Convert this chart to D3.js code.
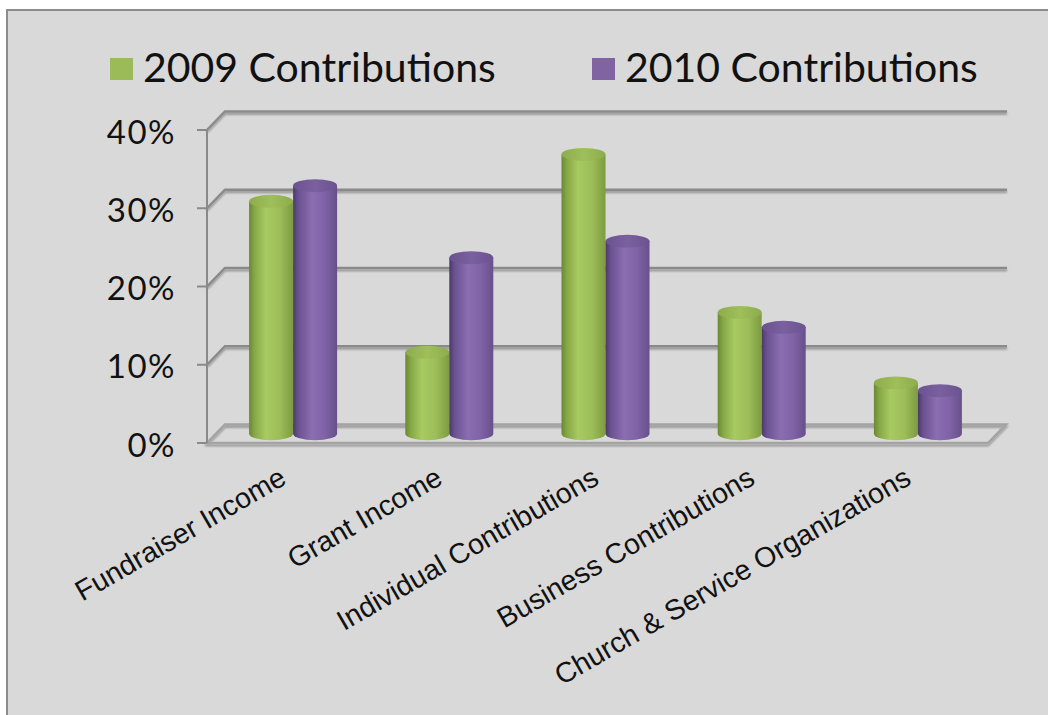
<!DOCTYPE html>
<html><head><meta charset="utf-8">
<script src="https://cdn.jsdelivr.net/npm/d3@7"></script>
<style>html,body{margin:0;padding:0;background:#fff;}svg{display:block;}</style>
</head><body>
<svg id="chart" width="1048" height="715"></svg>
<script>
const categories = ["Fundraiser Income", "Grant Income", "Individual Contributions", "Business Contributions", "Church & Service Organizations"];
const seriesNames = ["2009 Contributions", "2010 Contributions"];
const values2009 = [29.7, 10.4, 35.7, 15.5, 6.5];
const values2010 = [31.7, 22.5, 24.6, 13.6, 5.5];
const yTicks = [0, 10, 20, 30, 40];
const tickLabels = ["0%", "10%", "20%", "30%", "40%"];

const svg = d3.select("#chart");
const W = 1048, H = 715;

// frame
svg.append("rect").attr("x", 7).attr("y", 10).attr("width", W).attr("height", H).attr("fill", "#d9d9d9")
  .attr("stroke", "#8c8c8c").attr("stroke-width", 2);

const defs = svg.append("defs");
const shadow = defs.append("filter").attr("id", "lshadow").attr("x", "-5%").attr("y", "-50%").attr("width", "110%").attr("height", "300%");
shadow.append("feGaussianBlur").attr("in", "SourceAlpha").attr("stdDeviation", 1.2).attr("result", "b");
shadow.append("feOffset").attr("in", "b").attr("dy", 1.5).attr("result", "o");
shadow.append("feComponentTransfer").attr("in", "o").attr("result", "o2").append("feFuncA").attr("type", "linear").attr("slope", 0.35);
const merge = shadow.append("feMerge");
merge.append("feMergeNode").attr("in", "o2");
merge.append("feMergeNode").attr("in", "SourceGraphic");

const colors = [
  {stops: [["0%", "#6a8733"], ["12%", "#86a746"], ["38%", "#a8ca62"], ["70%", "#9cbd58"], ["100%", "#7d9b41"]], top: "#8dac4d", topHi: "#9fbf5a"},
  {stops: [["0%", "#4c3968"], ["12%", "#6a5290"], ["42%", "#8b6db1"], ["72%", "#8062a6"], ["100%", "#66508a"]], top: "#6b5290", topHi: "#7b60a0"}
];
colors.forEach((c, i) => {
  const g = defs.append("linearGradient").attr("id", "body" + i).attr("x1", 0).attr("x2", 1).attr("y1", 0).attr("y2", 0);
  c.stops.forEach(s => g.append("stop").attr("offset", s[0]).attr("stop-color", s[1]));
  const t = defs.append("linearGradient").attr("id", "top" + i).attr("x1", 0).attr("x2", 1).attr("y1", 0).attr("y2", 0);
  t.append("stop").attr("offset", "0%").attr("stop-color", c.top);
  t.append("stop").attr("offset", "50%").attr("stop-color", c.topHi);
  t.append("stop").attr("offset", "100%").attr("stop-color", c.top);
});

// plot geometry (front plane)
const x0 = 207, x1 = 988, yBase = 443, yTop = 130;
const depthX = 18, depthY = -18.5;
const y = d3.scaleLinear().domain([0, 40]).range([yBase, yTop]);
const x = d3.scaleBand().domain(categories).range([x0, x1]).paddingInner(0).paddingOuter(0);
const barW = 44;
const xs = d3.scaleBand().domain(seriesNames).range([-barW, barW]);

const grid = svg.append("g").attr("filter", "url(#lshadow)");
yTicks.forEach(t => {
  const yf = y(t), yb = y(t) + depthY;
  if (t > 0) {
    grid.append("path")
      .attr("d", `M${x0},${yf} L${x0 + depthX},${yb} L${x1 + depthX + 1},${yb}`)
      .attr("fill", "none").attr("stroke", "#8a8a8a").attr("stroke-width", 2.5);
  }
});
// floor
grid.append("path")
  .attr("d", `M${x0},${yBase} L${x1},${yBase} L${x1 + depthX},${yBase + depthY} L${x0 + depthX},${yBase + depthY} Z`)
  .attr("fill", "none").attr("stroke", "#a3a3a3").attr("stroke-width", 2.5);

// left axis (front)
const axis = svg.append("g");
axis.append("line").attr("x1", x0).attr("x2", x0).attr("y1", y(40)).attr("y2", yBase)
  .attr("stroke", "#8a8a8a").attr("stroke-width", 2);
yTicks.forEach((t, i) => {
  axis.append("line").attr("x1", x0 - 10).attr("x2", x0).attr("y1", y(t)).attr("y2", y(t))
    .attr("stroke", "#8a8a8a").attr("stroke-width", 2);
  axis.append("text").attr("x", 176).attr("y", y(t) + 2).attr("dy", "0.35em")
    .attr("text-anchor", "end").attr("font-family", "Lato, 'Liberation Sans', sans-serif")
    .attr("font-size", 33).attr("letter-spacing", 1.5).attr("fill", "#111").text(tickLabels[i]);
});

// cylinders at mid depth
const midX = 8, midY = depthY / 2;
const ry = 6.5;
const data = categories.map((c, i) => ({cat: c, vals: [values2009[i], values2010[i]]}));
const bars = svg.append("g");
data.forEach(d => {
  d.vals.forEach((v, si) => {
    const bx = x(d.cat) + x.bandwidth() / 2 + midX + xs(seriesNames[si]);
    const rx = xs.bandwidth() / 2;
    const cx = bx + rx;
    const yb = y(0) + midY, yt = y(v) + midY;
    bars.append("path")
      .attr("d", `M${bx},${yt} L${bx},${yb} A${rx},${ry} 0 0 0 ${bx + 2 * rx},${yb} L${bx + 2 * rx},${yt} Z`)
      .attr("fill", `url(#body${si})`);
    bars.append("ellipse").attr("cx", cx).attr("cy", yt).attr("rx", rx).attr("ry", ry)
      .attr("fill", `url(#top${si})`);
  });
});

// category labels
const labels = svg.append("g");
categories.forEach(c => {
  const px = x(c) + x.bandwidth() / 2 + 3, py = 483;
  labels.append("text").attr("transform", `translate(${px},${py}) rotate(-30)`)
    .attr("text-anchor", "end").attr("font-family", "'Liberation Sans', Arial, sans-serif")
    .attr("font-size", 28.5).attr("fill", "#111").text(c);
});

// legend
const legend = svg.append("g");
const legX = [110, 592];
seriesNames.forEach((s, i) => {
  legend.append("rect").attr("x", legX[i]).attr("y", 58).attr("width", 23).attr("height", 22)
    .attr("fill", i === 0 ? "#9bbb59" : "#8064a2");
  legend.append("text").attr("x", legX[i] + 33).attr("y", 82)
    .attr("font-family", "Lato, 'Liberation Sans', sans-serif").attr("font-size", 41)
    .attr("fill", "#111").text(s);
});
</script>
</body></html>
